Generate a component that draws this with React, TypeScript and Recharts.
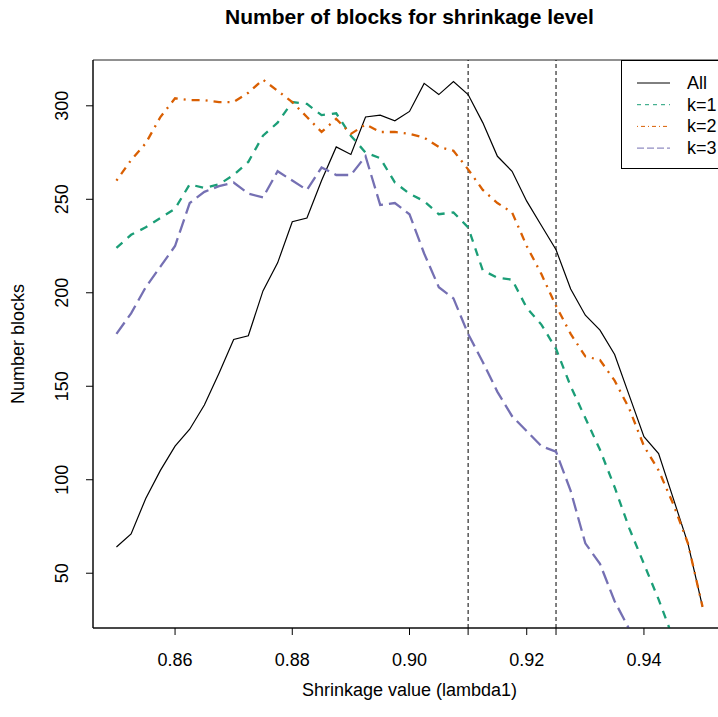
import {
  LineChart,
  Line,
  XAxis,
  YAxis,
  ReferenceLine,
  ReferenceArea,
  Legend,
  Label,
} from "recharts";

const FONT = '"Liberation Sans", Arial, Helvetica, sans-serif';

// shrinkage values (lambda1), one row per grid point
const lambda = [
  0.85, 0.8525, 0.855, 0.8575, 0.86, 0.8625, 0.865, 0.8675, 0.87, 0.8725,
  0.875, 0.8775, 0.88, 0.8825, 0.885, 0.8875, 0.89, 0.8925, 0.895, 0.8975,
  0.9, 0.9025, 0.905, 0.9075, 0.91, 0.9125, 0.915, 0.9175, 0.92, 0.9225,
  0.925, 0.9275, 0.93, 0.9325, 0.935, 0.9375, 0.94, 0.9425, 0.945, 0.9475,
  0.95,
];

const allBlocks = [
  64, 71, 90, 105, 118, 127, 140, 157, 175, 177,
  201, 216, 238, 240, 260, 278, 274, 294, 295, 292,
  297, 312, 306, 313, 306, 291, 273, 265, 249, 236,
  223, 202, 188, 180, 167, 145, 123, 114, 90, 66,
  32,
];

const k1Blocks = [
  224, 231, 235, 240, 245, 258, 256, 258, 263, 270,
  284, 291, 302, 301, 295, 296, 284, 275, 272, 259,
  253, 249, 242, 243, 235, 212, 208, 207, 192, 183,
  170, 150, 133, 116, 96, 74, 55, 36, 15, 5,
  2,
];

const k2Blocks = [
  260, 271, 280, 294, 304, 303, 303, 302, 302, 307,
  314, 308, 302, 294, 286, 293, 285, 290, 286, 286,
  285, 283, 278, 276, 266, 255, 248, 243, 225, 210,
  193, 178, 166, 164, 153, 138, 118, 105, 87, 66,
  32,
];

const k3Blocks: (number | null)[] = [
  178, 189, 203, 214, 225, 248, 254, 257, 259, 253,
  251, 265, 260, 255, 267, 263, 263, 273, 247, 248,
  242, 221, 203, 197, 178, 163, 147, 134, 126, 118,
  115, 94, 66, 55, 35, 20, 8, null, null, null,
  null,
];

const xTicks = [0.86, 0.88, 0.9, 0.91, 0.92, 0.925, 0.94];
const xLabelled = [0.86, 0.88, 0.9, 0.92, 0.94];
const yTicks = [50, 100, 150, 200, 250, 300];
const cutoffs = [0.91, 0.925];

const X_DOMAIN: [number, number] = [0.846, 0.954];
const Y_DOMAIN: [number, number] = [20.7, 324.5];

const series = [
  { key: "all", name: "All", color: "#000000", width: 1.2, dash: undefined, legendDash: undefined },
  { key: "k1", name: "k=1", color: "#1B9E77", width: 2.3, dash: "8 7", legendDash: "4 4" },
  { key: "k2", name: "k=2", color: "#D95F02", width: 2.3, dash: "2 6 8 6", legendDash: "1 3 4 3" },
  { key: "k3", name: "k=3", color: "#7570B3", width: 2.3, dash: "14 6", legendDash: "7 3" },
];

const data = lambda.map((x, i) => ({
  lambda: x,
  all: allBlocks[i],
  k1: k1Blocks[i],
  k2: k2Blocks[i],
  k3: k3Blocks[i],
}));

function XTick(props: any) {
  const { x, y, payload } = props;
  const v = payload.value;
  if (!xLabelled.some((t) => Math.abs(t - v) < 1e-9)) return null;
  return (
    <text
      x={x}
      y={y + 23}
      textAnchor="middle"
      dominantBaseline="central"
      fontFamily={FONT}
      fontSize={18}
      fill="#000"
    >
      {v.toFixed(2)}
    </text>
  );
}

function YTick(props: any) {
  const { x, y, payload } = props;
  const cx = x - 22;
  return (
    <text
      x={cx}
      y={y}
      transform={`rotate(-90, ${cx}, ${y})`}
      textAnchor="middle"
      dominantBaseline="central"
      fontFamily={FONT}
      fontSize={18}
      fill="#000"
    >
      {payload.value}
    </text>
  );
}

function LegendBox() {
  return (
    <svg width={106} height={110} style={{ display: "block" }}>
      <rect x={0.5} y={0.5} width={110} height={108} fill="#fff" stroke="#000" strokeWidth={1} />
      {series.map((s, i) => {
        const y = 23 + i * 21.7;
        return (
          <g key={s.key}>
            <line x1={16} x2={49} y1={y} y2={y} stroke={s.color} strokeWidth={1} strokeDasharray={s.legendDash} />
            <text x={66} y={y} dominantBaseline="central" fontFamily={FONT} fontSize={18} fill="#000">
              {s.name}
            </text>
          </g>
        );
      })}
    </svg>
  );
}

export default function App() {
  return (
    <div
      style={{
        position: "absolute",
        left: 0,
        top: 0,
        width: 718,
        height: 717,
        overflow: "hidden",
        background: "#fff",
      }}
    >
      <div
        style={{
          position: "absolute",
          left: 0,
          top: 4,
          width: 819,
          textAlign: "center",
          fontFamily: FONT,
          fontWeight: "bold",
          fontSize: 21,
          lineHeight: "26px",
          color: "#000",
        }}
      >
        Number of blocks for shrinkage level
      </div>
      <LineChart
        width={734}
        height={717}
        data={data}
        margin={{ top: 60, right: 8, bottom: 0, left: 0 }}
      >
        <XAxis
          dataKey="lambda"
          type="number"
          domain={X_DOMAIN}
          allowDataOverflow
          ticks={xTicks}
          tick={<XTick />}
          tickSize={7}
          height={89}
          stroke="#000"
          interval={0}
        >
          <Label
            content={({ viewBox }: any) => (
              <text
                x={viewBox.x + viewBox.width / 2}
                y={viewBox.y + 62}
                textAnchor="middle"
                dominantBaseline="central"
                fontFamily={FONT}
                fontSize={18}
                fill="#000"
              >
                Shrinkage value (lambda1)
              </text>
            )}
          />
        </XAxis>
        <YAxis
          type="number"
          domain={Y_DOMAIN}
          allowDataOverflow
          ticks={yTicks}
          tick={<YTick />}
          tickSize={7}
          width={93}
          stroke="#000"
          interval={0}
        >
          <Label
            content={({ viewBox }: any) => {
              const cx = viewBox.x + 18;
              const cy = viewBox.y + viewBox.height / 2;
              return (
                <text
                  x={cx}
                  y={cy}
                  transform={`rotate(-90, ${cx}, ${cy})`}
                  textAnchor="middle"
                  dominantBaseline="central"
                  fontFamily={FONT}
                  fontSize={18}
                  fill="#000"
                >
                  Number blocks
                </text>
              );
            }}
          />
        </YAxis>
        <ReferenceArea
          x1={X_DOMAIN[0]}
          x2={X_DOMAIN[1]}
          y1={Y_DOMAIN[0]}
          y2={Y_DOMAIN[1]}
          fill="none"
          fillOpacity={0}
          stroke="#222"
          strokeWidth={1}
        />
        {cutoffs.map((c) => (
          <ReferenceLine key={c} x={c} stroke="#000" strokeWidth={1} strokeDasharray="4 3" />
        ))}
        {series.map((s) => (
          <Line
            key={s.key}
            type="linear"
            dataKey={s.key}
            name={s.name}
            stroke={s.color}
            strokeWidth={s.width}
            strokeDasharray={s.dash}
            dot={false}
            activeDot={false}
            connectNulls={false}
            isAnimationActive={false}
          />
        ))}
        <Legend
          layout="horizontal"
          verticalAlign="middle"
          align="center"
          wrapperStyle={{ left: 621, top: 60, width: 110, height: 110 }}
          content={() => <LegendBox />}
        />
      </LineChart>
    </div>
  );
}
